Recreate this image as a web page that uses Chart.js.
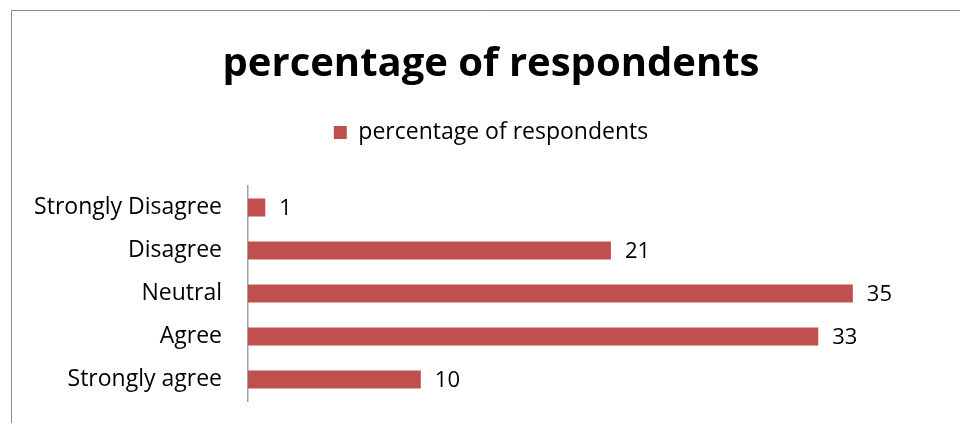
<!DOCTYPE html>
<html>
<head>
<meta charset="utf-8">
<script src="https://cdn.jsdelivr.net/npm/chart.js@4"></script>
<style>
  body { margin: 0; background: #fff; }
  #wrap { width: 960px; height: 423px; }
</style>
</head>
<body>
<div id="wrap"><canvas id="bargraph" width="960" height="423"></canvas></div>
<script>
var categories = ['Strongly Disagree', 'Disagree', 'Neutral', 'Agree', 'Strongly agree'];
var percentValues = [1, 21, 35, 33, 10];
var seriesName = 'percentage of respondents';

var fontName = '"Open Sans", "DejaVu Sans", sans-serif';

// frame line at top and left, like the cropped Excel chart border
var framePlugin = {
    id: 'frame',
    beforeDraw: function(chart) {
        var c = chart.ctx;
        c.save();
        c.fillStyle = '#fff';
        c.fillRect(0, 0, chart.width, chart.height);
        c.strokeStyle = '#8c8c8c';
        c.lineWidth = 1;
        c.beginPath();
        c.moveTo(11.5, chart.height);
        c.lineTo(11.5, 10.5);
        c.lineTo(chart.width, 10.5);
        c.stroke();
        c.restore();
    }
};

// values written after the end of each bar
var valueLabels = {
    id: 'valueLabels',
    afterDatasetsDraw: function(chart) {
        var c = chart.ctx;
        var meta = chart.getDatasetMeta(0);
        c.save();
        c.fillStyle = '#000';
        c.font = '22px ' + fontName;
        c.textAlign = 'left';
        c.textBaseline = 'middle';
        meta.data.forEach(function(bar, i) {
            c.fillText(percentValues[i], bar.x + 14, bar.y + 1);
        });
        c.restore();
    }
};

var ctx = document.getElementById('bargraph').getContext('2d');
window.myBar = new Chart(ctx, {
    type: 'bar',
    data: {
        labels: categories,
        datasets: [{
            label: seriesName,
            backgroundColor: '#c0504d',
            borderWidth: 0,
            data: percentValues,
            barPercentage: 0.84,
            categoryPercentage: 0.5
        }]
    },
    options: {
        indexAxis: 'y',
        responsive: false,
        animation: false,
        layout: { padding: { left: 22, right: 0, top: 0, bottom: 22 } },
        plugins: {
            title: {
                display: true,
                text: seriesName,
                color: '#000',
                font: { family: fontName, size: 40, weight: 'bold' },
                padding: { top: 41, bottom: 22 }
            },
            legend: {
                display: true,
                labels: {
                    color: '#000',
                    font: { family: fontName, size: 23 },
                    boxWidth: 13,
                    boxHeight: 13,
                    padding: 10
                }
            },
            tooltip: { enabled: false }
        },
        scales: {
            x: {
                position: 'top',
                min: 0,
                max: 41.2,
                ticks: { display: false },
                grid: { display: false },
                border: { display: false },
                afterFit: function(scale) { scale.height = 32; }
            },
            y: {
                ticks: {
                    color: '#000',
                    font: { family: fontName, size: 23 },
                    padding: 26
                },
                grid: { display: false, drawTicks: false },
                border: { display: true, color: '#a0a0a0', width: 1.5 },
                afterFit: function(scale) {
                    scale.width = 226;
                    scale.paddingTop = 0;
                    scale.paddingBottom = 0;
                }
            }
        }
    },
    plugins: [framePlugin, valueLabels]
});
</script>
</body>
</html>
